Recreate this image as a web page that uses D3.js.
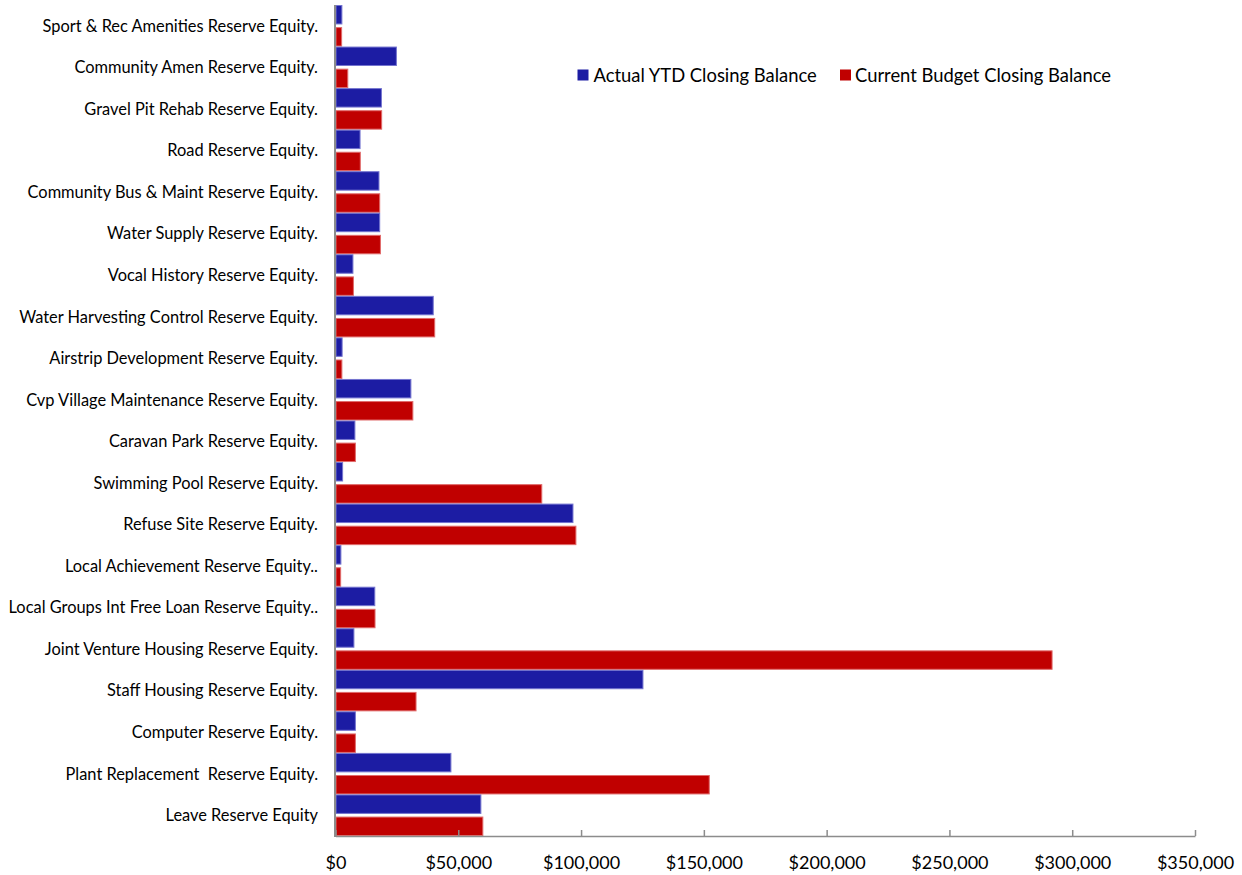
<!DOCTYPE html>
<html>
<head>
<meta charset="utf-8">
<script src="https://cdn.jsdelivr.net/npm/d3@7"></script>
<style>
  html, body { margin: 0; padding: 0; background: #fff; }
  svg { display: block; }
  text { font-family: Lato, "Open Sans", sans-serif; fill: #000; }
</style>
</head>
<body>
<svg id="chart" width="1242" height="875"></svg>
<script>
const categories = [
  "Sport & Rec Amenities Reserve Equity.",
  "Community Amen Reserve Equity.",
  "Gravel Pit Rehab Reserve Equity.",
  "Road Reserve Equity.",
  "Community Bus & Maint Reserve Equity.",
  "Water Supply Reserve Equity.",
  "Vocal History Reserve Equity.",
  "Water Harvesting Control Reserve Equity.",
  "Airstrip Development Reserve Equity.",
  "Cvp Village Maintenance Reserve Equity.",
  "Caravan Park Reserve Equity.",
  "Swimming Pool Reserve Equity.",
  "Refuse Site Reserve Equity.",
  "Local Achievement Reserve Equity..",
  "Local Groups Int Free Loan Reserve Equity..",
  "Joint Venture Housing Reserve Equity.",
  "Staff Housing Reserve Equity.",
  "Computer Reserve Equity.",
  "Plant Replacement  Reserve Equity.",
  "Leave Reserve Equity"
];
const actualYTD = [2800, 25000, 18900, 10200, 17900, 18200, 7300, 40000, 2900, 30900,
                   8100, 3100, 96900, 2400, 16200, 7700, 125400, 8300, 47200, 59400];
const currentBudget = [2700, 5200, 19000, 10300, 18200, 18500, 7500, 40600, 2800, 31700,
                       8300, 84200, 98100, 2300, 16300, 292000, 33000, 8300, 152400, 60200];
const seriesNames = ["Actual YTD Closing Balance", "Current Budget Closing Balance"];
const seriesColors = ["#1C1CA3", "#C00000"];
const strokeColors = ["#7474CF", "#E06A6A"];
const xTicks = [0, 50000, 100000, 150000, 200000, 250000, 300000, 350000];

const svg = d3.select("#chart");
const x = d3.scaleLinear().domain([0, 350000]).range([335.5, 1195]);
const y = d3.scaleBand().domain(categories).range([5, 836]).paddingInner(0).paddingOuter(0);
const inner = d3.scaleBand().domain([0, 1]).range([0, y.bandwidth()]).paddingInner(0.12).paddingOuter(0);

const rows = categories.map((c, i) => ({ cat: c, vals: [actualYTD[i], currentBudget[i]] }));

const g = svg.append("g");
const groups = g.selectAll("g.cat").data(rows).join("g")
  .attr("class", "cat")
  .attr("transform", d => `translate(0,${y(d.cat)})`);

groups.selectAll("rect").data(d => d.vals.map((v, k) => ({ v, k }))).join("rect")
  .attr("x", x(0) + 0.5)
  .attr("y", d => inner(d.k) + 0.5)
  .attr("width", d => Math.max(0, x(d.v) - x(0) - 1))
  .attr("height", inner.bandwidth() - 1)
  .attr("fill", d => seriesColors[d.k])
  .attr("stroke", d => strokeColors[d.k])
  .attr("stroke-width", 1);

// Category labels
g.selectAll("text.cat").data(categories).join("text")
  .attr("class", "cat")
  .attr("x", 318)
  .attr("y", d => y(d) + y.bandwidth() / 2)
  .attr("dy", "0.36em")
  .attr("text-anchor", "end")
  .attr("xml:space", "preserve")
  .style("white-space", "pre")
  .style("font-size", "16.4px")
  .text(d => d);

// Vertical axis line
svg.append("line")
  .attr("x1", 335).attr("x2", 335)
  .attr("y1", 5).attr("y2", 837)
  .attr("stroke", "#8c8c8c").attr("stroke-width", 2);

// X axis
const xAxis = d3.axisBottom(x)
  .tickValues(xTicks)
  .tickSizeInner(-6)
  .tickSizeOuter(0)
  .tickFormat(d => "$" + d3.format(",")(d));
const ax = svg.append("g").attr("transform", "translate(0,836)").call(xAxis);
ax.select(".domain").attr("stroke", "#8c8c8c").attr("stroke-width", 1.5);
ax.selectAll(".tick line").attr("stroke", "#8c8c8c").attr("stroke-width", 1.5);
ax.selectAll(".tick text")
  .attr("y", 33).attr("dy", 0)
  .style("font-family", "Lato, 'Open Sans', sans-serif")
  .style("font-size", "18px")
  .attr("fill", "#000");

// Legend
const legendItems = [
  { name: seriesNames[0], color: seriesColors[0], sx: 577.5, tx: 593.5 },
  { name: seriesNames[1], color: seriesColors[1], sx: 840, tx: 855 }
];
const lg = svg.append("g");
lg.selectAll("rect").data(legendItems).join("rect")
  .attr("x", d => d.sx).attr("y", 69.5)
  .attr("width", 11).attr("height", 11)
  .attr("fill", d => d.color);
lg.selectAll("text").data(legendItems).join("text")
  .attr("x", d => d.tx).attr("y", 81.5)
  .style("font-size", "18.4px")
  .attr("fill", "#1a1a1a")
  .text(d => d.name);
</script>
</body>
</html>
